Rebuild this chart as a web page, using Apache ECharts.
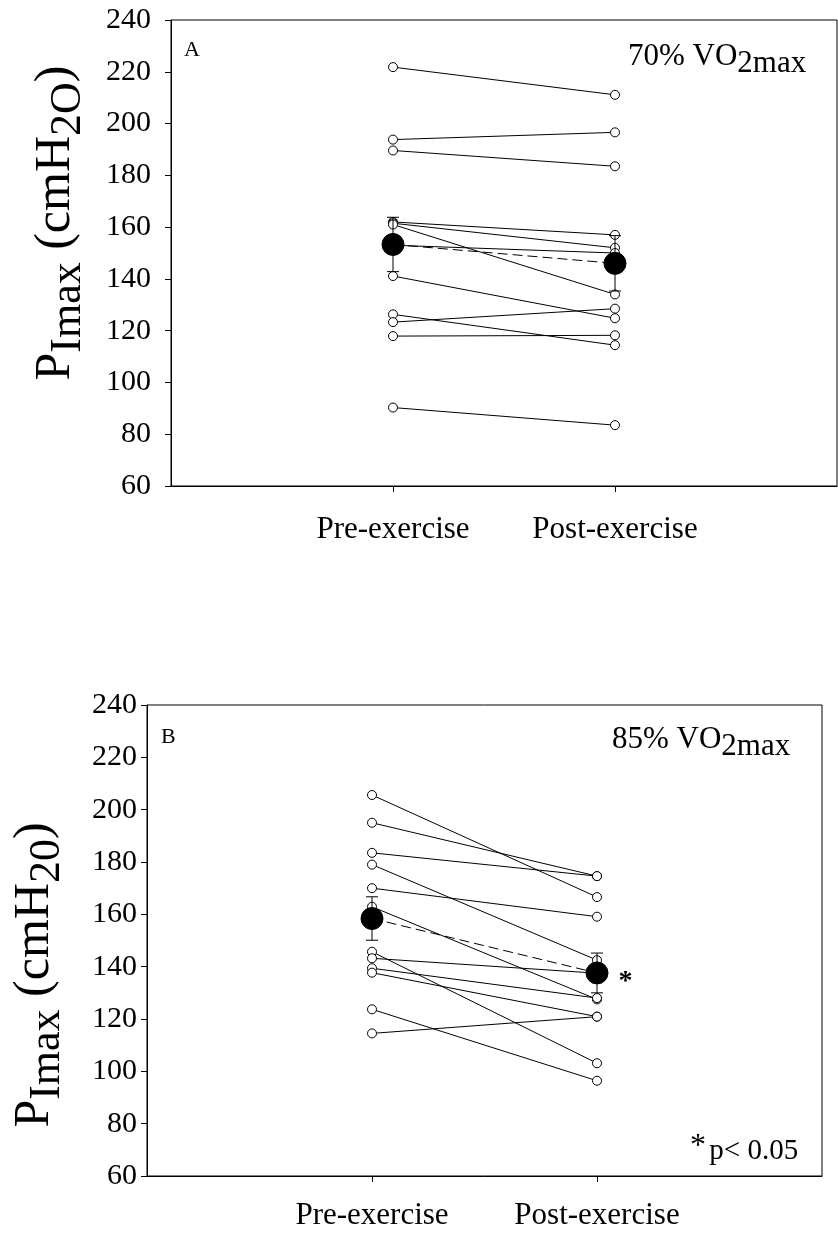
<!DOCTYPE html>
<html>
<head>
<meta charset="utf-8">
<script src="https://cdn.jsdelivr.net/npm/echarts@6/dist/echarts.min.js"></script>
<style>html,body{margin:0;padding:0;background:#fff}#c{width:838px;height:1234px}</style>
</head>
<body>
<div id="c"></div>
<script>
// ---- data ----
const conditions = ['', 'Pre-exercise', 'Post-exercise', ''];
const yTicks = [60, 80, 100, 120, 140, 160, 180, 200, 220, 240];
// Panel A (70% VO2max), individual subjects
const preA  = [221.8, 193.8, 189.6, 162.0, 161.5, 161.0, 153.0, 141.1, 126.3, 123.3, 117.9, 90.3];
const postA = [211.1, 196.6, 183.5, 157.0, 152.0, 134.0, 150.0, 124.8, 114.4, 128.5, 118.2, 83.5];
const meanA = [153.3, 146.0];
const errA  = [10.5, 10.7];
// Panel B (85% VO2max), individual subjects
const preB  = [205.6, 195.0, 183.5, 179.0, 170.0, 162.9, 145.7, 143.2, 139.4, 137.7, 123.7, 114.5];
const postB = [166.6, 174.6, 174.6, 142.5, 159.1, 127.5, 103.1, 137.5, 128.0, 120.9, 96.4, 120.9];
const meanB = [158.4, 137.6];
const errB  = [8.3, 7.6];

const FONT = '"Liberation Serif", "Times New Roman", serif';
const chart = echarts.init(document.getElementById('c'), null, {renderer: 'canvas'});

function xAxisCfg(gi, margin) {
  return {
    gridIndex: gi, type: 'value', min: 0, max: 3, interval: 1,
    axisLine: {show: true, onZero: false, lineStyle: {color: '#000', width: 1}},
    axisTick: {show: true, customValues: [1, 2], length: 6, inside: false, lineStyle: {color: '#000'}},
    axisLabel: {show: true, customValues: [1, 2], formatter: v => conditions[v], fontFamily: FONT, fontSize: 31, color: '#000', margin: margin},
    splitLine: {show: false}
  };
}
function yAxisCfg(gi, margin) {
  return {
    gridIndex: gi, type: 'value', min: yTicks[0], max: yTicks[yTicks.length - 1], interval: 20,
    axisLine: {show: true, lineStyle: {color: '#000', width: 1}},
    axisTick: {show: true, length: 6, lineStyle: {color: '#000'}},
    axisLabel: {fontFamily: FONT, fontSize: 30, color: '#000', margin: margin},
    splitLine: {show: false}
  };
}

const series = [];
function addPanel(gi, pre, post, mean, err, star) {
  pre.forEach((p, i) => {
    series.push({
      type: 'line', xAxisIndex: gi, yAxisIndex: gi, z: 2,
      data: [[1, p], [2, post[i]]],
      symbol: 'circle', symbolSize: 9, showSymbol: true,
      lineStyle: {color: '#000', width: 1},
      itemStyle: {color: '#fff', borderColor: '#000', borderWidth: 1},
      emphasis: {disabled: true}, silent: true
    });
  });
  series.push({
    type: 'custom', xAxisIndex: gi, yAxisIndex: gi, z: 3,
    data: mean.map((m, i) => [i + 1, m, err[i]]),
    renderItem: (params, api) => {
      const x = api.value(0), m = api.value(1), e = api.value(2);
      const top = api.coord([x, m + e]), bot = api.coord([x, m - e]);
      const hw = 6;
      const st = {stroke: '#000', lineWidth: 1};
      return {type: 'group', children: [
        {type: 'line', shape: {x1: top[0], y1: top[1], x2: bot[0], y2: bot[1]}, style: st},
        {type: 'line', shape: {x1: top[0] - hw, y1: top[1], x2: top[0] + hw, y2: top[1]}, style: st},
        {type: 'line', shape: {x1: bot[0] - hw, y1: bot[1], x2: bot[0] + hw, y2: bot[1]}, style: st}
      ]};
    },
    silent: true
  });
  const md = mean.map((m, i) => [i + 1, m]);
  const data = star ? [md[0], {value: md[1], label: {show: true, formatter: '*', position: 'right', distance: 10, offset: [0, 9], fontFamily: FONT, fontSize: 28, fontWeight: 'bold', color: '#000'}}] : md;
  series.push({
    type: 'line', xAxisIndex: gi, yAxisIndex: gi, z: 4,
    data: data,
    symbol: 'circle', symbolSize: 22,
    lineStyle: {color: '#000', width: 1, type: [10, 5]},
    itemStyle: {color: '#000', borderColor: '#000'},
    emphasis: {disabled: true}, silent: true
  });
}
addPanel(0, preA, postA, meanA, errA, false);
addPanel(1, preB, postB, meanB, errB, true);

function yTitle(x, y, last) {
  return {
    type: 'text', x: x, y: y, rotation: Math.PI / 2, z: 10,
    style: {
      text: '{a|P}{b|Imax}{a| (cmH}{b|2' + last + '}{a|)}',
      align: 'center', verticalAlign: 'middle', fill: '#000',
      rich: {
        a: {fontFamily: FONT, fontSize: 50, lineHeight: 54, fill: '#000'},
        b: {fontFamily: FONT, fontSize: 44, lineHeight: 44, padding: [24, 0, 0, 0], fill: '#000'}
      }
    }
  };
}
function vo2(x, y, pct) {
  return {
    type: 'text', x: x, y: y, z: 10,
    style: {
      text: '{a|' + pct + ' VO}{b|2max}',
      align: 'left', verticalAlign: 'middle', fill: '#000',
      rich: {
        a: {fontFamily: FONT, fontSize: 31, lineHeight: 34, fill: '#000'},
        b: {fontFamily: FONT, fontSize: 31, lineHeight: 31, padding: [14, 0, 0, 0], fill: '#000'}
      }
    }
  };
}

chart.setOption({
  animation: false,
  backgroundColor: '#fff',
  grid: [
    {left: 171, top: 20, width: 666, height: 466, show: true, borderColor: '#000', borderWidth: 1, backgroundColor: 'transparent'},
    {left: 147, top: 705, width: 675, height: 471, show: true, borderColor: '#000', borderWidth: 1, backgroundColor: 'transparent'}
  ],
  xAxis: [xAxisCfg(0, 28), xAxisCfg(1, 24)],
  yAxis: [yAxisCfg(0, 20), yAxisCfg(1, 10)],
  series: series,
  graphic: [
    {type: 'text', x: 184, y: 50, z: 10, style: {text: 'A', font: '22px ' + FONT, fill: '#000', verticalAlign: 'middle'}},
    {type: 'text', x: 161, y: 737, z: 10, style: {text: 'B', font: '22px ' + FONT, fill: '#000', verticalAlign: 'middle'}},
    vo2(628, 57, '70%'),
    vo2(612, 740, '85%'),
    yTitle(56, 223, 'O'),
    yTitle(35, 975, '0'),
    {type: 'text', x: 690, y: 1151, z: 10, style: {
      text: '{s|*} {p|p< 0.05}', align: 'left', verticalAlign: 'middle', fill: '#000',
      rich: {
        s: {fontFamily: FONT, fontSize: 32, lineHeight: 32, padding: [0, 0, 8, 0], fill: '#000'},
        p: {fontFamily: FONT, fontSize: 29, lineHeight: 32, fill: '#000'}
      }}}
  ]
});
</script>
</body>
</html>
